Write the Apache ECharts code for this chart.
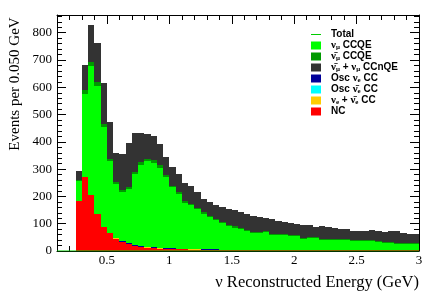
<!DOCTYPE html>
<html><head><meta charset="utf-8">
<script src="https://cdn.jsdelivr.net/npm/echarts@6/dist/echarts.min.js"></script>
<style>html,body{margin:0;padding:0;background:#fff}#c{width:442px;height:299px}</style>
</head><body><div id="c"></div>
<script>
// bin lower edges (GeV), bin width 0.05
const binLow = [0.25,0.30,0.35,0.40,0.45,0.50,0.55,0.60,0.65,0.70,0.75,0.80,0.85,0.90,0.95,
  1.00,1.05,1.10,1.15,1.20,1.25,1.30,1.35,1.40,1.45,1.50,1.55,1.60,1.65,1.70,1.75,1.80,1.85,1.90,1.95,
  2.00,2.05,2.10,2.15,2.20,2.25,2.30,2.35,2.40,2.45,2.50,2.55,2.60,2.65,2.70,2.75,2.80,2.85,2.90,2.95];
const binWidth = 0.05;
// stacked components, bottom to top
const nc = [185,270,205,135,88,65,45,33,25,18,15,12,11,9,8,7,6,6,5,5,4,4,4,3,3,3,3,3,
  2,2,2,2,2,2,2,2,2,2,2,2,2,2,2,2,2,2,2,2,2,2,2,2,2,2,2];
const nueCC = [0,0,0,0,0,1,1,1,1,1,1,1,1,1,1,1,1,1,1,1,1,1,1,1,1,1,1,1,
  1,1,1,1,1,1,1,1,1,1,1,1,1,1,1,1,1,1,1,1,1,1,1,1,1,1,1];
const oscNuebarCC = [0,0,0,0,0,0,0,0,0,0,0,0,0,0,0,0,0,0,0,0,0,0,0,0,0,0,0,0,
  0,0,0,0,0,0,0,0,0,0,0,0,0,0,0,0,0,0,0,0,0,0,0,0,0,0,0];
const oscNueCC = [0,0,1,1,1,1,2,2,2,2,2,2,2,2,2,2,2,2,2,1,1,1,1,1,1,1,1,1,
  1,1,1,1,1,1,1,1,1,1,1,1,1,1,1,1,1,1,1,1,1,1,1,1,1,1,1];
const numuCCQE = [71,307,471,468,367,263,198,180,199,260,299,314,309,294,259,223,201,168,160,146,131,118,108,99,88,81,76,70,
  61,61,66,56,54,54,50,50,41,44,44,38,38,38,36,36,32,32,32,32,30,25,25,23,22,22,22];
const numubarCCQE = [6,12,15,14,11,9,7,6,7,8,9,9,9,8,7,7,6,6,5,5,5,4,4,4,4,4,3,3,
  3,3,3,3,3,3,3,3,3,3,3,3,3,3,3,3,3,3,3,3,3,3,3,3,3,3,3];
const ccnqe = [33,92,136,143,147,134,107,135,163,145,108,92,89,77,67,68,67,66,67,58,48,50,50,53,58,59,59,58,
  59,56,48,53,49,46,46,42,46,45,37,46,42,39,38,37,36,34,36,38,38,39,43,45,38,34,34];
// "Total" line as seen in the picture (runs along zero)
const totalX = [0.1, 3.0];
const totalY = [0, 0];

const layers = [
  {name:'NC', data:nc, color:'#ff0000'},
  {name:'nueCC', data:nueCC, color:'#ffcc00'},
  {name:'oscNuebar', data:oscNuebarCC, color:'#00ffff'},
  {name:'oscNue', data:oscNueCC, color:'#000099'},
  {name:'numuCCQE', data:numuCCQE, color:'#00ff00'},
  {name:'numubarCCQE', data:numubarCCQE, color:'#009900'},
  {name:'CCnQE', data:ccnqe, color:'#333333'}
];
const base = binLow.map(()=>0);
function renderItem(params, api){
  const x0=api.value(0), x1=api.value(1), y0=api.value(2), y1=api.value(3);
  const p0=api.coord([x0,y1]), p1=api.coord([x1,y0]);
  const x=Math.round(p0[0]), y=Math.round(p0[1]);
  return {type:'rect', shape:{x:x, y:y, width:Math.round(p1[0])-x, height:Math.round(p1[1])-y},
    style:{fill:api.visual('color')}};
}
const series = layers.map(L=>{
  const d = binLow.map((x,i)=>{ const b=base[i]; base[i]+=L.data[i]; return [x, x+binWidth, b, b+L.data[i]]; });
  return {type:'custom', name:L.name, renderItem, data:d, xAxisIndex:0, yAxisIndex:0,
    itemStyle:{color:L.color}, encode:{x:[0,1], y:[2,3]}, clip:true, z:2};
});
series.unshift({type:'line', name:'Total', data:totalX.map((x,i)=>[x,totalY[i]]), symbol:'none',
  lineStyle:{color:'#00cc00', width:1}, itemStyle:{color:'#00cc00'}, xAxisIndex:0, yAxisIndex:0, z:5});

const majorX=[0.5,1,1.5,2,2.5,3];
const minorX=[]; for(let k=1;k<=30;k++) minorX.push(+(k*0.1).toFixed(1));
const majorY=[0,100,200,300,400,500,600,700,800];
const minorY=[]; for(let k=0;k<=43;k++) minorY.push(k*20);
const serif='"Liberation Serif","Times New Roman",serif';
function xAx(pos, ticks, len, labels, line){
  return {type:'value', min:0.1, max:3, position:pos,
    axisLine:{show:line, onZero:false, lineStyle:{color:'#000', width:1}},
    axisTick:{show:true, inside:true, length:len, customValues:ticks, lineStyle:{color:'#000'}},
    axisLabel:{show:labels, customValues:majorX, fontFamily:serif, fontSize:13, color:'#000', margin:3},
    splitLine:{show:false}};
}
function yAx(pos, ticks, len, labels, line){
  return {type:'value', min:0, max:865, position:pos,
    axisLine:{show:line, onZero:false, lineStyle:{color:'#000', width:1}},
    axisTick:{show:true, inside:true, length:len, customValues:ticks, lineStyle:{color:'#000'}},
    axisLabel:{show:labels, customValues:majorY, fontFamily:serif, fontSize:13, color:'#000', margin:5},
    splitLine:{show:false}};
}
const legendNames = ['Total','numuCCQE','numubarCCQE','CCnQE','oscNue','oscNuebar','nueCC','NC'];
const legendLabels = {
  'Total':'{sp|}{b|Total}',
  'numuCCQE':'{sp|}{g|ν}{s|μ}{b| CCQE}',
  'numubarCCQE':'{sp|}{g|ν̄}{s|μ}{b| CCQE}',
  'CCnQE':'{sp|}{g|ν̄}{s|μ}{b| + }{g|ν}{s|μ}{b| CCnQE}',
  'oscNue':'{sp|}{b|Osc }{g|ν}{s|e}{b| CC}',
  'oscNuebar':'{sp|}{b|Osc }{g|ν̄}{s|e}{b| CC}',
  'nueCC':'{sp|}{g|ν}{s|e}{b| + }{g|ν̄}{s|e}{b| CC}',
  'NC':'{sp|}{b|NC}'
};
const chart = echarts.init(document.getElementById('c'), null, {renderer:'canvas'});
chart.setOption({
  animation:false,
  grid:{left:57, right:23, top:15, bottom:48, containLabel:false},
  xAxis:[xAx('bottom',majorX,9,true,true), xAx('bottom',minorX,5,false,false),
         xAx('top',majorX,9,false,true), xAx('top',minorX,5,false,false)],
  yAxis:[yAx('left',majorY,9,true,true), yAx('left',minorY,5,false,false),
         yAx('right',majorY,9,false,true), yAx('right',minorY,5,false,false)],
  legend:{orient:'vertical', left:311, top:29, padding:0, itemWidth:10, itemGap:0, itemHeight:8,
    data:legendNames.map(n=>n==='Total'?{name:n, icon:'path://M0,0L10,0L10,1L0,1Z', itemStyle:{color:'#00cc00'}}:{name:n, icon:'rect'}),
    formatter:n=>legendLabels[n],
    textStyle:{color:'#000', fontSize:10, lineHeight:11, fontFamily:'"Liberation Sans",Arial,sans-serif', fontWeight:'bold',
      rich:{
        sp:{width:5, lineHeight:11},
        b:{fontFamily:'"Liberation Sans",Arial,sans-serif', fontWeight:'bold', fontSize:10, lineHeight:11},
        g:{fontFamily:serif, fontSize:11, lineHeight:11},
        s:{fontFamily:serif, fontSize:7, lineHeight:11, verticalAlign:'bottom', padding:[3,0,0,0]}
      }}},
  graphic:[
    {type:'text', x:419, y:283, style:{text:'ν Reconstructed Energy (GeV)', font:'16.5px '+serif, fill:'#000', align:'right', verticalAlign:'middle'}},
    {type:'text', x:15, y:84, rotation:Math.PI/2, style:{text:'Events per 0.050 GeV', font:'15px '+serif, fill:'#000', align:'center', verticalAlign:'middle'}}
  ],
  series:series
});
</script></body></html>
